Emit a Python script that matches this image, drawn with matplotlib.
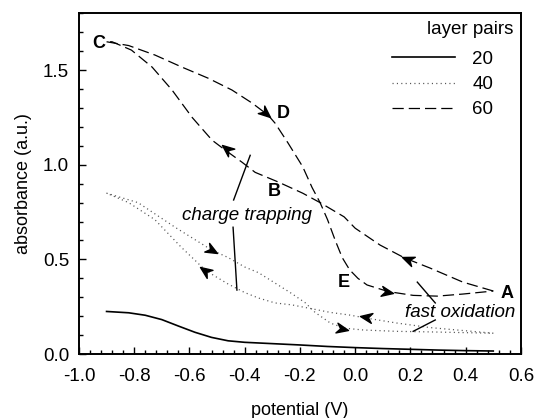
import numpy as np
import matplotlib
matplotlib.use("Agg")
import matplotlib.pyplot as plt
from matplotlib.ticker import MultipleLocator
from matplotlib.markers import MarkerStyle
from matplotlib.path import Path
from matplotlib.transforms import Affine2D

plt.rcParams['font.family'] = ['Liberation Sans', 'DejaVu Sans']

# 20 layer pairs (solid)
x20 = [-0.9, -0.82, -0.76, -0.70, -0.64, -0.58, -0.52, -0.46, -0.40, -0.30, -0.20,
       -0.10, 0.0, 0.1, 0.2, 0.3, 0.4, 0.5]
y20 = [0.225, 0.218, 0.205, 0.182, 0.148, 0.115, 0.088, 0.07, 0.062, 0.055, 0.048,
       0.04, 0.034, 0.029, 0.025, 0.021, 0.018, 0.016]

# 40 layer pairs (dotted), forward and return sweep
x40_fwd = [-0.9, -0.786, -0.652, -0.52, -0.46, -0.40, -0.35, -0.29, -0.23, -0.18,
           -0.145, -0.09, -0.04, 0.03, 0.15, 0.27, 0.5]
y40_fwd = [0.85, 0.80, 0.67, 0.55, 0.51, 0.46, 0.43, 0.375, 0.32, 0.27,
           0.22, 0.164, 0.137, 0.127, 0.12, 0.117, 0.11]
x40_ret = [0.5, 0.27, 0.15, 0.04, -0.02, -0.09, -0.17, -0.23, -0.29, -0.35,
           -0.40, -0.46, -0.54, -0.63, -0.725, -0.82, -0.9]
y40_ret = [0.11, 0.14, 0.164, 0.19, 0.206, 0.22, 0.243, 0.26, 0.27, 0.296,
           0.325, 0.37, 0.44, 0.565, 0.71, 0.80, 0.85]

# 60 layer pairs (dashed), C -> D -> E -> A and A -> B -> C
x60_fwd = [-0.9, -0.82, -0.725, -0.627, -0.533, -0.446, -0.373, -0.315, -0.29, -0.243,
           -0.19, -0.156, -0.127, -0.10, -0.072, -0.047, -0.02, 0.01, 0.043, 0.12,
           0.21, 0.297, 0.39, 0.5]
y60_fwd = [1.65, 1.63, 1.58, 1.516, 1.458, 1.395, 1.326, 1.262, 1.22, 1.115,
           0.99, 0.88, 0.80, 0.71, 0.60, 0.51, 0.445, 0.40, 0.365, 0.33,
           0.31, 0.306, 0.317, 0.333]
x60_ret = [0.5, 0.39, 0.27, 0.18, 0.09, 0.0, -0.04, -0.127, -0.19, -0.28, -0.362,
           -0.41, -0.47, -0.518, -0.59, -0.663, -0.735, -0.81, -0.88, -0.9]
y60_ret = [0.333, 0.38, 0.455, 0.507, 0.576, 0.665, 0.725, 0.80, 0.85, 0.91, 0.96,
           1.014, 1.077, 1.13, 1.25, 1.395, 1.516, 1.606, 1.65, 1.65]

# point labels
pt_names = ['A', 'B', 'C', 'D', 'E']
pt_x = [0.55, -0.293, -0.928, -0.261, -0.04]
pt_y = [0.322, 0.861, 1.643, 1.27, 0.38]

# direction arrows: (tip, tail)
arrows = [
    ((-0.31, 1.255), (-0.37, 1.33)),
    ((0.138, 0.322), (0.07, 0.34)),
    ((0.17, 0.512), (0.25, 0.465)),
    ((-0.482, 1.104), (-0.42, 1.03)),
    ((-0.50, 0.533), (-0.57, 0.59)),
    ((-0.562, 0.46), (-0.50, 0.395)),
    ((0.018, 0.20), (0.10, 0.18)),
    ((-0.025, 0.127), (-0.10, 0.15)),
]

fig = plt.figure(figsize=(5.37, 4.18), dpi=100)
ax = fig.add_axes([0.147, 0.153, 0.823, 0.815])

ax.plot(x20, y20, color='black', lw=1.2, label='20')
ax.plot(x40_fwd, y40_fwd, color='#555555', lw=0.9, dashes=(0.9, 2.6), label='40')
ax.plot(x40_ret, y40_ret, color='#555555', lw=0.9, dashes=(0.9, 2.6))
ax.plot(x60_fwd, y60_fwd, color='black', lw=0.9, dashes=(9, 4), label='60')
ax.plot(x60_ret, y60_ret, color='black', lw=0.9, dashes=(9, 4))

ax.set_xlim(-1.0, 0.6)
ax.set_ylim(0, 1.8)

# barbed arrow heads, tip at the marker origin
head = Path([(0, 0), (-1, 0.42), (-0.68, 0), (-1, -0.42), (0, 0)],
            [Path.MOVETO, Path.LINETO, Path.LINETO, Path.LINETO, Path.CLOSEPOLY])
for tip, tail in arrows:
    p1 = ax.transData.transform(tip)
    p0 = ax.transData.transform(tail)
    ang = np.degrees(np.arctan2(p1[1] - p0[1], p1[0] - p0[0]))
    m = MarkerStyle(head, transform=Affine2D().rotate_deg(ang))
    ax.plot([tip[0]], [tip[1]], marker=m, markersize=17, color='black', lw=0)

for name, px, py in zip(pt_names, pt_x, pt_y):
    ax.text(px, py, name, fontsize=13, fontweight='bold', ha='center', va='center')

# annotation text + pointer lines
ax.text(-0.39, 0.73, 'charge trapping', fontsize=13.5, style='italic',
        ha='center', va='center')
ax.plot([-0.38, -0.44], [1.05, 0.814], color='black', lw=1)
ax.plot([-0.442, -0.428], [0.67, 0.338], color='black', lw=1)
ax.text(0.38, 0.222, 'fast oxidation', fontsize=13.5, style='italic',
        ha='center', va='center')
ax.plot([0.225, 0.29], [0.38, 0.27], color='black', lw=1)
ax.plot([0.21, 0.29], [0.12, 0.18], color='black', lw=1)

ax.xaxis.set_minor_locator(MultipleLocator(0.04))
ax.yaxis.set_minor_locator(MultipleLocator(0.1))
ax.set_xticks(np.arange(-1.0, 0.61, 0.2))
ax.set_xticklabels(['-1.0', '-0.8', '-0.6', '-0.4', '-0.2', '0.0', '0.2', '0.4', '0.6'])
ax.set_yticks([0.0, 0.5, 1.0, 1.5])
ax.set_yticklabels(['0.0', '0.5', '1.0', '1.5'])
ax.tick_params(which='both', direction='in', top=False, right=False, labelsize=13.5,
               width=1)
ax.tick_params(axis='x', pad=10)
ax.tick_params(axis='y', pad=7)
ax.tick_params(which='major', length=5)
ax.tick_params(which='minor', length=3)
for s in ax.spines.values():
    s.set_linewidth(1.4)

ax.set_xlabel('potential (V)', fontsize=13, labelpad=12)
ax.set_ylabel('absorbance (a.u.)', fontsize=13, labelpad=8)

ax.legend(loc='upper left', bbox_to_anchor=(0.709, 0.89), frameon=False,
          fontsize=13.5, handlelength=3.36, borderaxespad=0, borderpad=0,
          labelspacing=0.43, handletextpad=0.9)
ax.text(0.9826, 0.9515, 'layer pairs', transform=ax.transAxes, fontsize=13.5,
        ha='right', va='center')

fig.savefig('out.png', dpi=100)
